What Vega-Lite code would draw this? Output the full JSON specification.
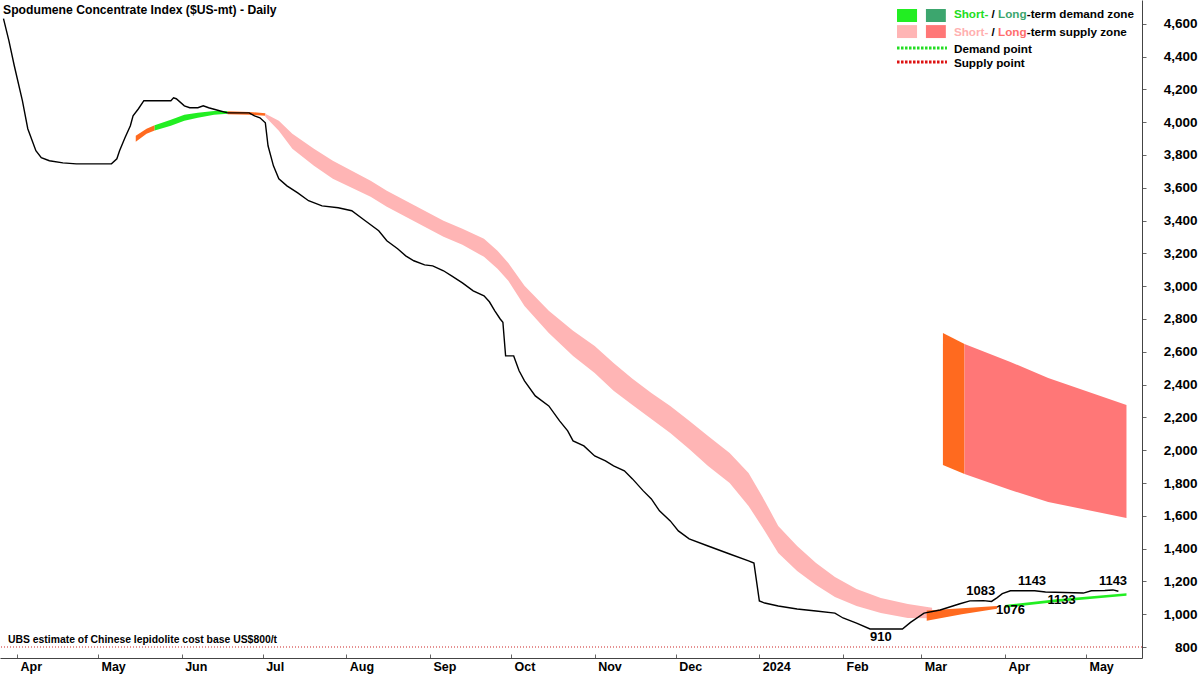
{
  "$schema": "https://vega.github.io/schema/vega-lite/v6.json",
  "width": 1142,
  "height": 658,
  "autosize": {"type": "none"},
  "padding": {"left": 0, "top": 0, "right": 58, "bottom": 17},
  "background": "white",
  "title": {"text": "Spodumene Concentrate Index ($US-mt) - Daily", "anchor": "start", "frame": "group", "orient": "top", "offset": -26, "baseline": "alphabetic", "dx": 3, "fontSize": 12.2, "fontWeight": "bold", "font": "Liberation Sans", "color": "#000000"},
  "datasets": {
    "price": [
      {"date": "2023-03-27", "price": 4631}, {"date": "2023-03-29", "price": 4497}, {"date": "2023-03-31", "price": 4344},
      {"date": "2023-04-03", "price": 4131}, {"date": "2023-04-05", "price": 3960}, {"date": "2023-04-08", "price": 3826},
      {"date": "2023-04-10", "price": 3783}, {"date": "2023-04-13", "price": 3765}, {"date": "2023-04-18", "price": 3752},
      {"date": "2023-04-23", "price": 3746}, {"date": "2023-05-06", "price": 3746}, {"date": "2023-05-08", "price": 3777},
      {"date": "2023-05-09", "price": 3826}, {"date": "2023-05-11", "price": 3905}, {"date": "2023-05-13", "price": 3978},
      {"date": "2023-05-14", "price": 4039}, {"date": "2023-05-16", "price": 4082}, {"date": "2023-05-18", "price": 4131},
      {"date": "2023-05-28", "price": 4131}, {"date": "2023-05-29", "price": 4149}, {"date": "2023-05-30", "price": 4143},
      {"date": "2023-06-02", "price": 4100}, {"date": "2023-06-04", "price": 4088}, {"date": "2023-06-07", "price": 4088},
      {"date": "2023-06-09", "price": 4100}, {"date": "2023-06-11", "price": 4088}, {"date": "2023-06-15", "price": 4070},
      {"date": "2023-06-18", "price": 4057}, {"date": "2023-06-26", "price": 4057}, {"date": "2023-06-28", "price": 4039},
      {"date": "2023-06-30", "price": 4027}, {"date": "2023-07-02", "price": 3996}, {"date": "2023-07-03", "price": 3856},
      {"date": "2023-07-05", "price": 3734}, {"date": "2023-07-07", "price": 3655}, {"date": "2023-07-10", "price": 3612},
      {"date": "2023-07-14", "price": 3569}, {"date": "2023-07-18", "price": 3521}, {"date": "2023-07-23", "price": 3490},
      {"date": "2023-07-29", "price": 3478}, {"date": "2023-08-03", "price": 3460}, {"date": "2023-08-08", "price": 3399},
      {"date": "2023-08-13", "price": 3338}, {"date": "2023-08-16", "price": 3277}, {"date": "2023-08-20", "price": 3228},
      {"date": "2023-08-23", "price": 3185}, {"date": "2023-08-26", "price": 3155}, {"date": "2023-08-30", "price": 3130},
      {"date": "2023-09-02", "price": 3124}, {"date": "2023-09-06", "price": 3094}, {"date": "2023-09-09", "price": 3063},
      {"date": "2023-09-13", "price": 3020}, {"date": "2023-09-17", "price": 2972}, {"date": "2023-09-21", "price": 2941},
      {"date": "2023-09-23", "price": 2905}, {"date": "2023-09-25", "price": 2850}, {"date": "2023-09-27", "price": 2800},
      {"date": "2023-09-28", "price": 2780}, {"date": "2023-09-29", "price": 2575}, {"date": "2023-10-02", "price": 2575},
      {"date": "2023-10-04", "price": 2484}, {"date": "2023-10-06", "price": 2423}, {"date": "2023-10-10", "price": 2331},
      {"date": "2023-10-15", "price": 2270}, {"date": "2023-10-19", "price": 2179}, {"date": "2023-10-22", "price": 2118},
      {"date": "2023-10-24", "price": 2057}, {"date": "2023-10-28", "price": 2026}, {"date": "2023-11-01", "price": 1965},
      {"date": "2023-11-05", "price": 1935}, {"date": "2023-11-08", "price": 1904}, {"date": "2023-11-12", "price": 1874},
      {"date": "2023-11-15", "price": 1825}, {"date": "2023-11-19", "price": 1752}, {"date": "2023-11-22", "price": 1703},
      {"date": "2023-11-25", "price": 1630}, {"date": "2023-11-29", "price": 1569}, {"date": "2023-12-02", "price": 1508},
      {"date": "2023-12-06", "price": 1459}, {"date": "2023-12-13", "price": 1416}, {"date": "2023-12-21", "price": 1367},
      {"date": "2023-12-28", "price": 1325}, {"date": "2023-12-30", "price": 1312}, {"date": "2024-01-01", "price": 1081},
      {"date": "2024-01-03", "price": 1068}, {"date": "2024-01-08", "price": 1050}, {"date": "2024-01-15", "price": 1032},
      {"date": "2024-01-22", "price": 1020}, {"date": "2024-01-29", "price": 1007}, {"date": "2024-02-01", "price": 977},
      {"date": "2024-02-06", "price": 946}, {"date": "2024-02-11", "price": 910}, {"date": "2024-02-23", "price": 910},
      {"date": "2024-02-26", "price": 950}, {"date": "2024-03-02", "price": 1007}, {"date": "2024-03-08", "price": 1026},
      {"date": "2024-03-15", "price": 1062}, {"date": "2024-03-19", "price": 1081}, {"date": "2024-03-24", "price": 1083},
      {"date": "2024-03-27", "price": 1078}, {"date": "2024-03-29", "price": 1100}, {"date": "2024-03-31", "price": 1125},
      {"date": "2024-04-03", "price": 1143}, {"date": "2024-04-12", "price": 1143}, {"date": "2024-04-16", "price": 1135},
      {"date": "2024-04-30", "price": 1129}, {"date": "2024-05-03", "price": 1143}, {"date": "2024-05-08", "price": 1145},
      {"date": "2024-05-11", "price": 1148}, {"date": "2024-05-13", "price": 1140}
    ],
    "zones": [
      {"date": "2023-05-15", "lo": 3880, "hi": 3917, "zone": "Supply transition", "seg": "a"},
      {"date": "2023-05-19", "lo": 3929, "hi": 3960, "zone": "Supply transition", "seg": "a"},
      {"date": "2023-05-22", "lo": 3950, "hi": 3982, "zone": "Supply transition", "seg": "a"},
      {"date": "2023-05-22", "lo": 3950, "hi": 3982, "zone": "Short-term demand zone", "seg": "b"},
      {"date": "2023-05-28", "lo": 3978, "hi": 4015, "zone": "Short-term demand zone", "seg": "b"},
      {"date": "2023-06-02", "lo": 4009, "hi": 4045, "zone": "Short-term demand zone", "seg": "b"},
      {"date": "2023-06-07", "lo": 4027, "hi": 4057, "zone": "Short-term demand zone", "seg": "b"},
      {"date": "2023-06-13", "lo": 4045, "hi": 4068, "zone": "Short-term demand zone", "seg": "b"},
      {"date": "2023-06-18", "lo": 4051, "hi": 4068, "zone": "Short-term demand zone", "seg": "b"},
      {"date": "2023-06-18", "lo": 4048, "hi": 4066, "zone": "Supply transition", "seg": "c"},
      {"date": "2023-06-26", "lo": 4045, "hi": 4062, "zone": "Supply transition", "seg": "c"},
      {"date": "2023-07-02", "lo": 4040, "hi": 4055, "zone": "Supply transition", "seg": "c"},
      {"date": "2023-07-02", "lo": 4033, "hi": 4051, "zone": "Short-term supply zone", "seg": "d"},
      {"date": "2023-07-07", "lo": 3948, "hi": 4009, "zone": "Short-term supply zone", "seg": "d"},
      {"date": "2023-07-12", "lo": 3838, "hi": 3929, "zone": "Short-term supply zone", "seg": "d"},
      {"date": "2023-07-20", "lo": 3734, "hi": 3838, "zone": "Short-term supply zone", "seg": "d"},
      {"date": "2023-07-27", "lo": 3655, "hi": 3765, "zone": "Short-term supply zone", "seg": "d"},
      {"date": "2023-08-03", "lo": 3600, "hi": 3704, "zone": "Short-term supply zone", "seg": "d"},
      {"date": "2023-08-10", "lo": 3545, "hi": 3643, "zone": "Short-term supply zone", "seg": "d"},
      {"date": "2023-08-16", "lo": 3484, "hi": 3582, "zone": "Short-term supply zone", "seg": "d"},
      {"date": "2023-08-23", "lo": 3423, "hi": 3521, "zone": "Short-term supply zone", "seg": "d"},
      {"date": "2023-08-30", "lo": 3362, "hi": 3460, "zone": "Short-term supply zone", "seg": "d"},
      {"date": "2023-09-06", "lo": 3301, "hi": 3399, "zone": "Short-term supply zone", "seg": "d"},
      {"date": "2023-09-13", "lo": 3252, "hi": 3350, "zone": "Short-term supply zone", "seg": "d"},
      {"date": "2023-09-21", "lo": 3179, "hi": 3289, "zone": "Short-term supply zone", "seg": "d"},
      {"date": "2023-09-26", "lo": 3106, "hi": 3216, "zone": "Short-term supply zone", "seg": "d"},
      {"date": "2023-09-30", "lo": 3033, "hi": 3142, "zone": "Short-term supply zone", "seg": "d"},
      {"date": "2023-10-06", "lo": 2880, "hi": 3002, "zone": "Short-term supply zone", "seg": "d"},
      {"date": "2023-10-15", "lo": 2715, "hi": 2850, "zone": "Short-term supply zone", "seg": "d"},
      {"date": "2023-10-24", "lo": 2575, "hi": 2728, "zone": "Short-term supply zone", "seg": "d"},
      {"date": "2023-11-01", "lo": 2471, "hi": 2636, "zone": "Short-term supply zone", "seg": "d"},
      {"date": "2023-11-08", "lo": 2362, "hi": 2532, "zone": "Short-term supply zone", "seg": "d"},
      {"date": "2023-11-15", "lo": 2276, "hi": 2435, "zone": "Short-term supply zone", "seg": "d"},
      {"date": "2023-11-22", "lo": 2191, "hi": 2349, "zone": "Short-term supply zone", "seg": "d"},
      {"date": "2023-11-29", "lo": 2105, "hi": 2270, "zone": "Short-term supply zone", "seg": "d"},
      {"date": "2023-12-06", "lo": 2008, "hi": 2179, "zone": "Short-term supply zone", "seg": "d"},
      {"date": "2023-12-13", "lo": 1904, "hi": 2087, "zone": "Short-term supply zone", "seg": "d"},
      {"date": "2023-12-21", "lo": 1800, "hi": 1983, "zone": "Short-term supply zone", "seg": "d"},
      {"date": "2023-12-28", "lo": 1660, "hi": 1861, "zone": "Short-term supply zone", "seg": "d"},
      {"date": "2024-01-03", "lo": 1508, "hi": 1691, "zone": "Short-term supply zone", "seg": "d"},
      {"date": "2024-01-08", "lo": 1373, "hi": 1538, "zone": "Short-term supply zone", "seg": "d"},
      {"date": "2024-01-15", "lo": 1264, "hi": 1416, "zone": "Short-term supply zone", "seg": "d"},
      {"date": "2024-01-22", "lo": 1178, "hi": 1312, "zone": "Short-term supply zone", "seg": "d"},
      {"date": "2024-01-29", "lo": 1105, "hi": 1227, "zone": "Short-term supply zone", "seg": "d"},
      {"date": "2024-02-06", "lo": 1050, "hi": 1154, "zone": "Short-term supply zone", "seg": "d"},
      {"date": "2024-02-15", "lo": 1007, "hi": 1099, "zone": "Short-term supply zone", "seg": "d"},
      {"date": "2024-02-25", "lo": 977, "hi": 1062, "zone": "Short-term supply zone", "seg": "d"},
      {"date": "2024-03-05", "lo": 975, "hi": 1040, "zone": "Short-term supply zone", "seg": "d"},
      {"date": "2024-03-03", "lo": 960, "hi": 1022, "zone": "Supply transition", "seg": "e"},
      {"date": "2024-03-16", "lo": 1000, "hi": 1036, "zone": "Supply transition", "seg": "e"},
      {"date": "2024-03-29", "lo": 1034, "hi": 1050, "zone": "Supply transition", "seg": "e"},
      {"date": "2024-04-01", "lo": 1040, "hi": 1056, "zone": "Short-term demand zone", "seg": "f"},
      {"date": "2024-04-20", "lo": 1074, "hi": 1091, "zone": "Short-term demand zone", "seg": "f"},
      {"date": "2024-05-16", "lo": 1112, "hi": 1128, "zone": "Short-term demand zone", "seg": "f"},
      {"date": "2024-03-09", "lo": 1910, "hi": 2715, "zone": "Supply transition", "seg": "g"},
      {"date": "2024-03-17", "lo": 1855, "hi": 2648, "zone": "Supply transition", "seg": "g"},
      {"date": "2024-03-17", "lo": 1855, "hi": 2648, "zone": "Long-term supply zone", "seg": "h"},
      {"date": "2024-04-03", "lo": 1757, "hi": 2538, "zone": "Long-term supply zone", "seg": "h"},
      {"date": "2024-04-17", "lo": 1684, "hi": 2440, "zone": "Long-term supply zone", "seg": "h"},
      {"date": "2024-05-16", "lo": 1587, "hi": 2276, "zone": "Long-term supply zone", "seg": "h"}
    ],
    "marks": [
      {"date": "2024-02-15", "price": 910, "label": "910", "side": "low"},
      {"date": "2024-03-23", "price": 1083, "label": "1083", "side": "high"},
      {"date": "2024-04-03", "price": 1076, "label": "1076", "side": "low"},
      {"date": "2024-04-11", "price": 1143, "label": "1143", "side": "high"},
      {"date": "2024-04-22", "price": 1133, "label": "1133", "side": "low"},
      {"date": "2024-05-11", "price": 1143, "label": "1143", "side": "high"}
    ],
    "one": [{}]
  },
  "layer": [
    {
      "data": {"name": "zones"},
      "mark": {"type": "area", "opacity": 1, "interpolate": "linear"},
      "encoding": {
        "x": {"field": "date", "type": "temporal", "title": null,
          "scale": {"type": "utc", "domain": [{"year": 2023, "month": 3, "date": 25, "hours": 17, "utc": true}, {"year": 2024, "month": 5, "date": 21, "hours": 18, "utc": true}]},
          "axis": {"tickCount": {"interval": "month", "step": 1}, "labelOverlap": false, "labelExpr": "utcFormat(datum.value, '%m') == '01' ? utcFormat(datum.value, '%Y') : utcFormat(datum.value, '%b')"}},
        "y": {"field": "hi", "type": "quantitative", "title": null,
          "scale": {"domain": [733, 4745], "nice": false, "zero": false},
          "axis": {"orient": "right", "labelOverlap": false, "labelSeparation": -100, "labelFlush": false, "labelBound": false, "tickCount": 25, "values": [800, 1000, 1200, 1400, 1600, 1800, 2000, 2200, 2400, 2600, 2800, 3000, 3200, 3400, 3600, 3800, 4000, 4200, 4400, 4600], "format": ",d"}},
        "y2": {"field": "lo"},
        "color": {"field": "zone", "type": "nominal", "legend": null,
          "scale": {"domain": ["Short-term demand zone", "Long-term demand zone", "Short-term supply zone", "Long-term supply zone", "Supply transition"], "range": ["#22EE22", "#3CA66E", "#FFB5B5", "#FF7777", "#FF6A1F"]}},
        "detail": {"field": "seg"}
      }
    },
    {
      "data": {"name": "price"},
      "mark": {"type": "line", "color": "#000000", "strokeWidth": 1.4},
      "encoding": {
        "x": {"field": "date", "type": "temporal", "title": null},
        "y": {"field": "price", "type": "quantitative", "title": null}
      }
    },
    {
      "data": {"name": "marks"},
      "transform": [{"filter": "datum.side == 'high'"}],
      "mark": {"type": "text", "font": "Liberation Sans", "fontSize": 13, "fontWeight": "bold", "color": "#000000", "align": "center", "baseline": "bottom", "dy": -3},
      "encoding": {
        "x": {"field": "date", "type": "temporal", "title": null},
        "y": {"field": "price", "type": "quantitative", "title": null},
        "text": {"field": "label"}
      }
    },
    {
      "data": {"name": "marks"},
      "transform": [{"filter": "datum.side == 'low'"}],
      "mark": {"type": "text", "font": "Liberation Sans", "fontSize": 13, "fontWeight": "bold", "color": "#000000", "align": "center", "baseline": "top", "dy": 2},
      "encoding": {
        "x": {"field": "date", "type": "temporal", "title": null},
        "y": {"field": "price", "type": "quantitative", "title": null},
        "text": {"field": "label"}
      }
    },
    {
      "data": {"name": "one"},
      "mark": {"type": "rule", "color": "#CC2222", "strokeWidth": 1.2, "strokeDash": [1, 2]},
      "encoding": {"y": {"datum": 800, "title": null}}
    },
    {
      "data": {"name": "one"},
      "mark": {"type": "text", "text": "UBS estimate of Chinese lepidolite cost base US$800/t", "font": "Liberation Sans", "fontSize": 10.4, "fontWeight": "bold", "color": "#000000", "align": "left", "baseline": "alphabetic", "dy": -4},
      "encoding": {"x": {"datum": {"year": 2023, "month": 3, "date": 28, "hours": 16, "utc": true}, "title": null}, "y": {"datum": 800, "title": null}}
    },
    {
      "data": {"name": "one"},
      "mark": {"type": "rect", "color": "#22EE22"},
      "encoding": {"x": {"datum": {"year": 2024, "month": 2, "date": 21, "utc": true}, "title": null}, "x2": {"datum": {"year": 2024, "month": 2, "date": 28, "hours": 10, "utc": true}}, "y": {"datum": 4690, "title": null}, "y2": {"datum": 4611}}
    },
    {
      "data": {"name": "one"},
      "mark": {"type": "rect", "color": "#3CA66E"},
      "encoding": {"x": {"datum": {"year": 2024, "month": 3, "date": 2, "hours": 17, "utc": true}, "title": null}, "x2": {"datum": {"year": 2024, "month": 3, "date": 10, "hours": 2, "utc": true}}, "y": {"datum": 4690, "title": null}, "y2": {"datum": 4611}}
    },
    {
      "data": {"name": "one"},
      "mark": {"type": "rect", "color": "#FFB5B5"},
      "encoding": {"x": {"datum": {"year": 2024, "month": 2, "date": 21, "utc": true}, "title": null}, "x2": {"datum": {"year": 2024, "month": 2, "date": 28, "hours": 10, "utc": true}}, "y": {"datum": 4592, "title": null}, "y2": {"datum": 4513}}
    },
    {
      "data": {"name": "one"},
      "mark": {"type": "rect", "color": "#FF7777"},
      "encoding": {"x": {"datum": {"year": 2024, "month": 3, "date": 2, "hours": 17, "utc": true}, "title": null}, "x2": {"datum": {"year": 2024, "month": 3, "date": 10, "hours": 2, "utc": true}}, "y": {"datum": 4592, "title": null}, "y2": {"datum": 4513}}
    },
    {
      "data": {"name": "one"},
      "mark": {"type": "rule", "color": "#22DD22", "strokeWidth": 3, "strokeDash": [2.5, 1.5]},
      "encoding": {"x": {"datum": {"year": 2024, "month": 2, "date": 21, "utc": true}, "title": null}, "x2": {"datum": {"year": 2024, "month": 3, "date": 10, "hours": 12, "utc": true}}, "y": {"datum": 4452, "title": null}}
    },
    {
      "data": {"name": "one"},
      "mark": {"type": "rule", "color": "#DD1111", "strokeWidth": 3, "strokeDash": [2.5, 1.5]},
      "encoding": {"x": {"datum": {"year": 2024, "month": 2, "date": 21, "utc": true}, "title": null}, "x2": {"datum": {"year": 2024, "month": 3, "date": 10, "hours": 12, "utc": true}}, "y": {"datum": 4367, "title": null}}
    },
    {
      "data": {"name": "one"},
      "mark": {"type": "text", "text": "Short-", "font": "Liberation Sans", "fontSize": 11.7, "fontWeight": "bold", "color": "#22DD22", "align": "left", "baseline": "middle"},
      "encoding": {"x": {"datum": {"year": 2024, "month": 3, "date": 13, "hours": 2, "utc": true}, "title": null}, "y": {"datum": 4660, "title": null}}
    },
    {
      "data": {"name": "one"},
      "mark": {"type": "text", "text": "/", "font": "Liberation Sans", "fontSize": 11.7, "fontWeight": "bold", "color": "#000000", "align": "left", "baseline": "middle"},
      "encoding": {"x": {"datum": {"year": 2024, "month": 3, "date": 27, "utc": true}, "title": null}, "y": {"datum": 4660, "title": null}}
    },
    {
      "data": {"name": "one"},
      "mark": {"type": "text", "text": "Long", "font": "Liberation Sans", "fontSize": 11.7, "fontWeight": "bold", "color": "#3CA66E", "align": "left", "baseline": "middle"},
      "encoding": {"x": {"datum": {"year": 2024, "month": 3, "date": 29, "hours": 10, "utc": true}, "title": null}, "y": {"datum": 4660, "title": null}}
    },
    {
      "data": {"name": "one"},
      "mark": {"type": "text", "text": "-term demand zone", "font": "Liberation Sans", "fontSize": 11.7, "fontWeight": "bold", "color": "#000000", "align": "left", "baseline": "middle"},
      "encoding": {"x": {"datum": {"year": 2024, "month": 4, "date": 9, "hours": 2, "utc": true}, "title": null}, "y": {"datum": 4660, "title": null}}
    },
    {
      "data": {"name": "one"},
      "mark": {"type": "text", "text": "Short-", "font": "Liberation Sans", "fontSize": 11.7, "fontWeight": "bold", "color": "#FFB0B0", "align": "left", "baseline": "middle"},
      "encoding": {"x": {"datum": {"year": 2024, "month": 3, "date": 13, "hours": 2, "utc": true}, "title": null}, "y": {"datum": 4550, "title": null}}
    },
    {
      "data": {"name": "one"},
      "mark": {"type": "text", "text": "/", "font": "Liberation Sans", "fontSize": 11.7, "fontWeight": "bold", "color": "#000000", "align": "left", "baseline": "middle"},
      "encoding": {"x": {"datum": {"year": 2024, "month": 3, "date": 27, "utc": true}, "title": null}, "y": {"datum": 4550, "title": null}}
    },
    {
      "data": {"name": "one"},
      "mark": {"type": "text", "text": "Long", "font": "Liberation Sans", "fontSize": 11.7, "fontWeight": "bold", "color": "#FF6E6E", "align": "left", "baseline": "middle"},
      "encoding": {"x": {"datum": {"year": 2024, "month": 3, "date": 29, "hours": 10, "utc": true}, "title": null}, "y": {"datum": 4550, "title": null}}
    },
    {
      "data": {"name": "one"},
      "mark": {"type": "text", "text": "-term supply zone", "font": "Liberation Sans", "fontSize": 11.7, "fontWeight": "bold", "color": "#000000", "align": "left", "baseline": "middle"},
      "encoding": {"x": {"datum": {"year": 2024, "month": 4, "date": 9, "hours": 2, "utc": true}, "title": null}, "y": {"datum": 4550, "title": null}}
    },
    {
      "data": {"name": "one"},
      "mark": {"type": "text", "text": "Demand point", "font": "Liberation Sans", "fontSize": 11.7, "fontWeight": "bold", "color": "#000000", "align": "left", "baseline": "middle"},
      "encoding": {"x": {"datum": {"year": 2024, "month": 3, "date": 13, "hours": 2, "utc": true}, "title": null}, "y": {"datum": 4446, "title": null}}
    },
    {
      "data": {"name": "one"},
      "mark": {"type": "text", "text": "Supply point", "font": "Liberation Sans", "fontSize": 11.7, "fontWeight": "bold", "color": "#000000", "align": "left", "baseline": "middle"},
      "encoding": {"x": {"datum": {"year": 2024, "month": 3, "date": 13, "hours": 2, "utc": true}, "title": null}, "y": {"datum": 4361, "title": null}}
    }
  ],
  "config": {
    "view": {"stroke": null},
    "font": "Liberation Sans",
    "axis": {"grid": false, "domainColor": "#444444", "domainWidth": 1, "tickColor": "#666666", "labelFont": "Liberation Sans", "labelFontWeight": "bold", "labelColor": "#000000", "labelOverlap": false},
    "axisX": {"orient": "bottom", "labelAlign": "left", "labelBaseline": "top", "labelOffset": 3, "labelPadding": 6, "tickSize": -4, "labelFlush": false, "labelFontSize": 12.5},
    "axisY": {"labelAlign": "right", "labelBaseline": "middle", "labelPadding": 51, "tickSize": 4, "labelFontSize": 13.5, "labelOverlap": false, "labelSeparation": -100}
  }
}
